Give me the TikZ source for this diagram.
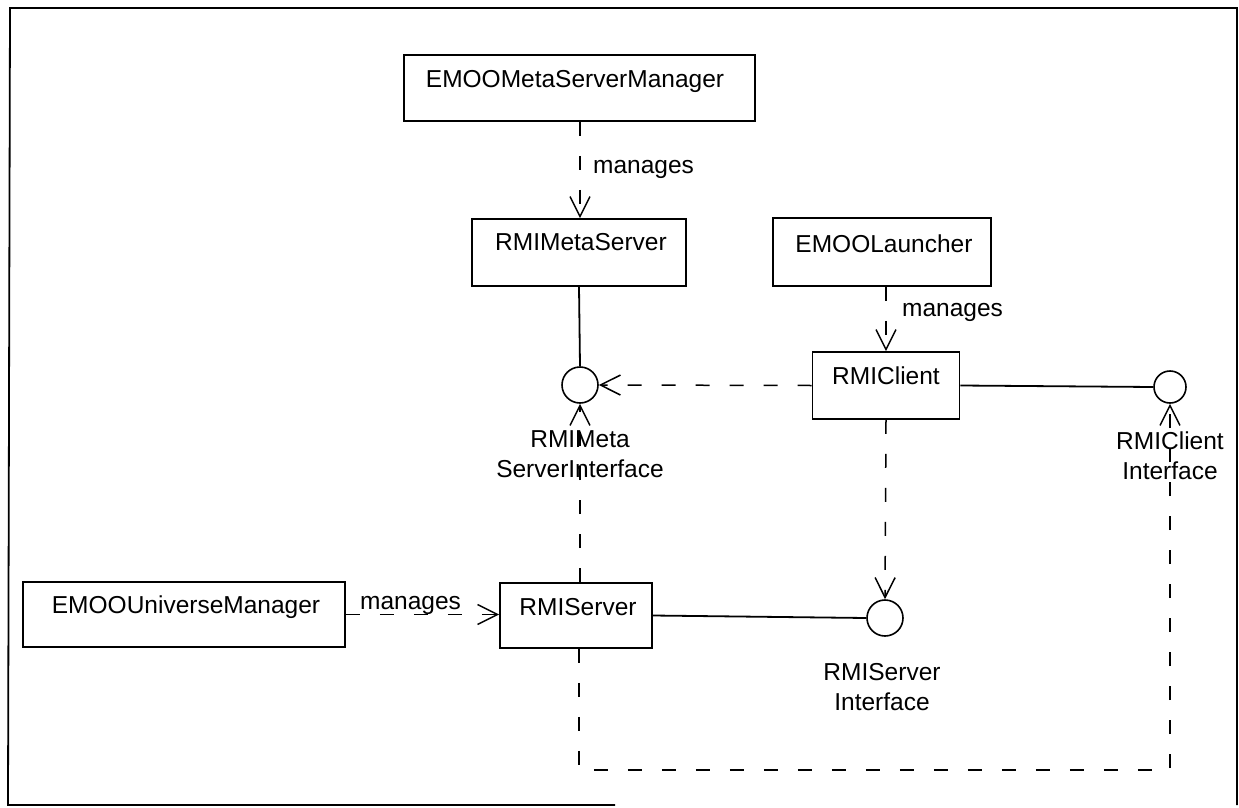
\documentclass[tikz,border=0pt]{standalone}
\usepackage{fontspec}
\setmainfont{Liberation Sans}
\usetikzlibrary{arrows.meta}
\begin{document}
\begin{tikzpicture}[x=1pt,y=-1pt,
  cls/.style={draw, line width=1.6pt, inner sep=0pt},
  txt/.style={font=\fontsize{24.5}{30}\selectfont, inner sep=0pt, align=center},
  iface/.style={draw, circle, line width=1.6pt, inner sep=0pt, minimum size=36pt},
  dep/.style={line width=1.5pt, dash pattern=on 14pt off 20pt,
    -{Straight Barb[length=20pt,width=20pt,line width=1.5pt]}},
  assoc/.style={line width=1.8pt},
  frame/.style={line width=1.8pt}
]
\useasboundingbox (0,0) rectangle (1239,808);

% outer frame
\draw[frame] (615,805) -- (8,805) -- (10,8) -- (1237,8) -- (1237,805);

% classes
\node[cls, minimum width=351pt, minimum height=66pt] (mgr)    at (579.5,88)  {};
\node[cls, minimum width=214pt, minimum height=67pt] (meta)   at (579,252.5) {};
\node[cls, minimum width=218pt, minimum height=68pt] (launch) at (882,252)   {};
\node[cls, minimum width=147pt, minimum height=67pt] (client) at (886,385.5) {};
\node[cls, minimum width=322pt, minimum height=65pt] (univ)   at (184,614.5) {};
\node[cls, minimum width=152pt, minimum height=65pt] (server) at (576,615.5) {};

\node[txt, anchor=base] (mgrT)    at (575,87)  {EMOOMetaServerManager};
\node[txt, anchor=base] (metaT)   at (581,250) {RMIMetaServer};
\node[txt, anchor=base] (launchT) at (884,252) {EMOOLauncher};
\node[txt, anchor=base] (clientT) at (886,384) {RMIClient};
\node[txt, anchor=base] (univT)   at (186,613) {EMOOUniverseManager};
\node[txt, anchor=base] (serverT) at (578,615) {RMIServer};

% interfaces
\node[iface] (metaI)   at (580,385)  {};
\node[iface, minimum size=32pt] (clientI) at (1170,387) {};
\node[iface] (serverI) at (885,618)  {};

\node[txt, anchor=north] (metaL)   at (580,430)  {RMIMeta\\ServerInterface};
\node[txt, anchor=north] (clientL) at (1170,432) {RMIClient\\Interface};
\node[txt, anchor=north] (serverL) at (882,663)  {RMIServer\\Interface};

% realisations
\draw[assoc] (meta.south) -- (metaI.north);
\draw[assoc] (client.east) -- (clientI.west);
\draw[assoc] (server.east) -- (serverI.west);

% "manages" dependencies
\draw[dep] (metaI.north |- mgr.south) -- (metaI.north |- meta.north);
\node[txt, anchor=base west] (mgrM) at (593,173) {manages};

\draw[dep] (client.north |- launch.south) -- (client.north);
\node[txt, anchor=base west] (launchM) at (902,316) {manages};

\draw[dep] (univ.east) -- (server.west |- univ.east);
\node[txt, anchor=base west] (univM) at (360,609) {manages};

% usage dependencies
\draw[dep] (client.west) -- (metaI.east);
\draw[dep] (client.south) -- (serverI.north);
\draw[dep] (metaI.south |- server.north) -- (metaI.south);

\coordinate (turnA) at (579,770);
\coordinate (turnB) at (1170,770);
\draw[dep] (turnA |- server.south) -- (turnA) -- (turnB) -- (clientI.south);
\end{tikzpicture}
\end{document}
